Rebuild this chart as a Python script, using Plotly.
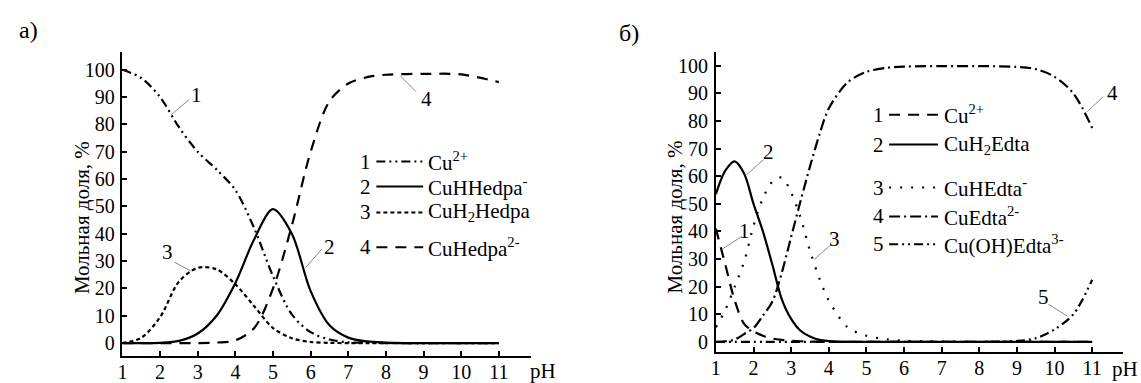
import plotly.graph_objects as go

# ---------------- data: panel а (Hedpa) ----------------
ph_a = [1, 1.5, 2, 2.5, 3, 3.5, 4, 4.5, 5, 5.5, 6, 6.5, 7, 7.5, 8, 9, 10, 11]
cu_a = [100, 97, 90, 79, 70, 63.5, 56, 42, 24.5, 10.5, 4, 1.3, 0.3, 0.1, 0, 0, 0, 0]
cuhhedpa = [0, 0, 0.1, 0.8, 3.5, 10, 22, 38, 49, 40, 19, 6.5, 2, 0.6, 0.2, 0, 0, 0]
cuh2hedpa = [0, 2, 9.5, 22.5, 27.5, 27, 21.5, 13.5, 5.5, 1.8, 0.4, 0.1, 0, 0, 0, 0, 0, 0]
cuhedpa = [0, 0, 0, 0, 0, 0.2, 1, 5.5, 20, 43, 70, 88.5, 95, 97.3, 98.2, 98.5, 98.3, 95.5]

# ---------------- data: panel б (Edta) ----------------
ph_b = [1, 1.25, 1.5, 1.75, 2, 2.25, 2.5, 2.75, 3, 3.25, 3.5, 3.75, 4, 4.5, 5, 5.5, 6, 7, 8, 9, 9.5, 10, 10.5, 11]
cu_b = [41, 28, 15, 6.5, 3.8, 2.2, 1.2, 0.7, 0.4, 0.2, 0.1, 0, 0, 0, 0, 0, 0, 0, 0, 0, 0, 0, 0, 0]
cuh2edta = [53.5, 62, 65.4, 61, 50, 40, 28, 15.5, 8.3, 4, 1.9, 0.7, 0.3, 0, 0, 0, 0, 0, 0, 0, 0, 0, 0, 0]
cuhedta = [5.3, 11.5, 20, 29, 42, 52, 58, 59.5, 54, 45, 33, 23, 15, 5.3, 2.2, 1.0, 0.4, 0.1, 0, 0, 0, 0, 0, 0]
cuedta = [0, 0.2, 0.8, 2.8, 5, 9.5, 14.5, 25, 38, 51, 63.5, 75, 84.5, 94, 97.8, 99.2, 99.7, 99.9, 99.9, 99.6, 98.8, 96, 90, 77.5]
cuohedta = [0, 0, 0, 0, 0, 0, 0, 0, 0, 0, 0, 0, 0, 0, 0, 0, 0, 0, 0, 0.3, 1.3, 4.5, 10, 22.5]

x_ticks = [1, 2, 3, 4, 5, 6, 7, 8, 9, 10, 11]
y_ticks = [0, 10, 20, 30, 40, 50, 60, 70, 80, 90, 100]

legend_a = ["Cu<sup>2+</sup>", "CuHHedpa<sup>-</sup>", "CuH<sub>2</sub>Hedpa", "CuHedpa<sup>2-</sup>"]
legend_b = ["Cu<sup>2+</sup>", "CuH<sub>2</sub>Edta", "CuHEdta<sup>-</sup>", "CuEdta<sup>2-</sup>", "Cu(OH)Edta<sup>3-</sup>"]

# ---------------- styling ----------------
W, H = 1141, 383
FONT = "Liberation Serif, Times New Roman, serif"
FS = 20
FS_TXT = 21
DDD = "9px,4px,2px,4px,2px,4px"   # dash-dot-dot
SHORT = "4px,3px"
LONG = "11px,8px"
DOT = "2px,9px"
DASHDOT = "11px,4px,2px,4px"

def px(x):
    return x / W

def py(y):
    return 1 - y / H

fig = go.Figure()

series_a = [(cu_a, DDD), (cuhhedpa, "solid"), (cuh2hedpa, SHORT), (cuhedpa, LONG)]
for vals, dash in series_a:
    fig.add_trace(go.Scatter(x=ph_a, y=vals, mode="lines", xaxis="x", yaxis="y",
                             line=dict(color="black", width=2.2, dash=dash, shape="spline", smoothing=0.9),
                             showlegend=False, hoverinfo="skip"))

series_b = [(cu_b, LONG), (cuh2edta, "solid"), (cuhedta, DOT), (cuedta, DASHDOT), (cuohedta, DDD)]
for vals, dash in series_b:
    fig.add_trace(go.Scatter(x=ph_b, y=vals, mode="lines", xaxis="x2", yaxis="y2",
                             line=dict(color="black", width=2.2, dash=dash, shape="spline", smoothing=0.9),
                             showlegend=False, hoverinfo="skip"))

axis_common = dict(showline=True, linecolor="black", linewidth=1.5, ticks="inside", ticklen=5,
                   tickwidth=1.5, tickcolor="black", showgrid=False, zeroline=False,
                   tickfont=dict(family=FONT, size=FS, color="black"))

unit_a_x, unit_a_y, zero_a = 37.8, 2.74, 344
unit_b_x, unit_b_y, zero_b = 37.8, 2.767, 342.7

fig.update_layout(
    width=W, height=H, margin=dict(l=0, r=0, t=0, b=0),
    paper_bgcolor="white", plot_bgcolor="white",
    font=dict(family=FONT, size=FS, color="black"),
    xaxis=dict(domain=[px(118), px(528)], range=[1, 1 + (528 - 118) / unit_a_x], anchor="y",
               tickvals=x_ticks, ticklabelstandoff=-3, **axis_common),
    yaxis=dict(domain=[py(357), py(52)], range=[-(357 - zero_a) / unit_a_y, (zero_a - 52) / unit_a_y],
               anchor="x", tickvals=y_ticks, ticklabelstandoff=2, **axis_common),
    xaxis2=dict(domain=[px(714), px(1123)], range=[1, 1 + (1123 - 714) / unit_b_x], anchor="y2",
                tickvals=x_ticks, ticklabelstandoff=-3, **axis_common),
    yaxis2=dict(domain=[py(353), py(52)], range=[-(353 - zero_b) / unit_b_y, (zero_b - 52) / unit_b_y],
                anchor="x2", tickvals=y_ticks, ticklabelstandoff=2, **axis_common),
)

anns = []
shapes = []

def text(x, y, s, size=FS_TXT, xanchor="center", xref="paper", yref="paper", textangle=0):
    anns.append(dict(x=x, y=y, xref=xref, yref=yref, text=s, showarrow=False, xanchor=xanchor,
                     yanchor="middle", textangle=textangle,
                     font=dict(family=FONT, size=size, color="black")))

# panel labels, axis titles, pH labels
text(px(24), py(30), "а)", size=24)
text(px(627), py(33), "б)", size=24)
text(px(78), py(218), "Мольная доля, %", textangle=-90)
text(px(673), py(218), "Мольная доля, %", textangle=-90)
text(px(540), py(372), "pH")
text(px(1125), py(370), "pH")

# legends (drawn manually)
rows_a = [162, 187, 213, 248]
dashes_a = [DDD, "solid", SHORT, LONG]
for i, (yy, lab, d) in enumerate(zip(rows_a, legend_a, dashes_a)):
    text(px(370), py(yy), str(i + 1), xanchor="right")
    shapes.append(dict(type="line", xref="paper", yref="paper", x0=px(373), x1=px(420),
                       y0=py(yy), y1=py(yy), line=dict(color="black", width=2, dash=d)))
    text(px(423), py(yy), lab, xanchor="left")

rows_b = [115, 145, 188, 217, 245]
dashes_b = [LONG, "solid", DOT, DASHDOT, DDD]
for i, (yy, lab, d) in enumerate(zip(rows_b, legend_b, dashes_b)):
    text(px(885), py(yy), str(i + 1), xanchor="right")
    shapes.append(dict(type="line", xref="paper", yref="paper", x0=px(888), x1=px(937),
                       y0=py(yy), y1=py(yy), line=dict(color="black", width=2, dash=d)))
    text(px(941), py(yy), lab, xanchor="left")

# curve labels with leader lines (data coords)
labels_a = [("1", 2.96, 90.9, 2.30, 83.6, 2.77, 89.1),
            ("2", 6.50, 35.0, 5.87, 27.7, 6.29, 34.3),
            ("3", 2.19, 33.2, 2.83, 26.3, 2.38, 29.6),
            ("4", 9.07, 89.4, 8.38, 97.8, 8.80, 92.0)]
for s, lx, ly, x0, y0, x1, y1 in labels_a:
    text(lx, ly, s, xref="x", yref="y")
    shapes.append(dict(type="line", xref="x", yref="y", x0=x0, y0=y0, x1=x1, y1=y1,
                       line=dict(color="#8a8a8a", width=1)))

labels_b = [("1", 1.77, 40.0, 1.16, 33.5, 1.69, 38.2),
            ("2", 2.40, 68.9, 1.82, 60.6, 2.27, 66.0),
            ("3", 4.15, 37.1, 3.62, 29.9, 4.07, 35.3),
            ("4", 11.53, 90.2, 10.87, 83.4, 11.29, 88.8),
            ("5", 9.70, 16.2, 10.34, 9.3, 9.84, 13.6)]
for s, lx, ly, x0, y0, x1, y1 in labels_b:
    text(lx, ly, s, xref="x2", yref="y2")
    shapes.append(dict(type="line", xref="x2", yref="y2", x0=x0, y0=y0, x1=x1, y1=y1,
                       line=dict(color="#8a8a8a", width=1)))

fig.update_layout(annotations=anns, shapes=shapes)
fig.write_html("out.html", config={"displayModeBar": False},
               post_script="document.body.style.margin='0';")
